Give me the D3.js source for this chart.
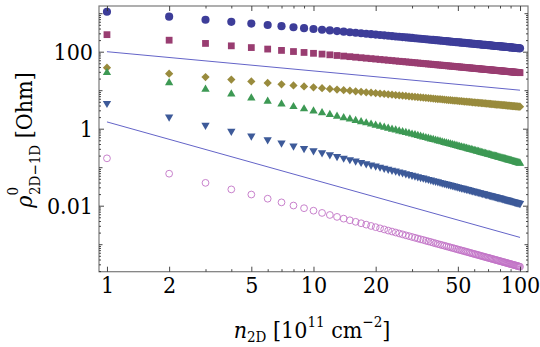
<!DOCTYPE html>
<html>
<head>
<meta charset="utf-8">
<script src="https://cdn.jsdelivr.net/npm/d3@7"></script>
<style>
  body { margin: 0; background: #fff; }
  svg text { font-family: "DejaVu Serif Condensed", "DejaVu Serif"; font-stretch: condensed; fill: #000; }
</style>
</head>
<body>
<svg width="540" height="347"></svg>
<script>
// carrier density n2D, in 1e11 cm^-2
const density = d3.range(1, 101);

// resistivity values, one per density point
const rhoCircle = [1090,812,678,596,538,495,460,432,409,389,372,357,343,331,320,310,301,293,285,278,
  272,266,260,254,249,244,240,236,232,228,224,220,217,214,211,208,205,202,199,197,
  194,192,190,188,185,183,181,179,177,176,174,172,171,169,167,166,164,163,161,160,
  159,157,156,155,153,152,151,150,149,148,147,146,145,143,142,141,141,140,139,138,
  137,136,135,134,134,133,132,131,130,130,129,128,127,127,126,125,124,124,123,122];
const rhoSquare = [277,199,164,142,128,117,108,101,95.6,90.8,86.6,83.0,79.7,76.9,74.3,71.9,69.8,67.8,66.0,64.4,
  62.8,61.4,60.0,58.8,57.5,56.4,55.4,54.4,53.5,52.5,51.7,50.9,50.0,49.3,48.6,47.9,47.3,46.6,46.0,45.4,
  44.9,44.4,43.8,43.3,42.8,42.3,41.9,41.5,41.0,40.6,40.2,39.8,39.4,39.1,38.7,38.3,38.0,37.7,37.3,37.0,
  36.7,36.4,36.1,35.8,35.5,35.2,35.0,34.7,34.5,34.2,34.0,33.7,33.5,33.3,33.0,32.8,32.6,32.4,32.2,32.0,
  31.8,31.6,31.4,31.2,31.0,30.8,30.6,30.5,30.3,30.1,29.9,29.8,29.6,29.4,29.3,29.1,28.9,28.8,28.7,28.5];
const rhoDiamond = [38.4,26.9,21.9,18.9,16.9,15.4,14.2,13.3,12.5,11.9,11.3,10.8,10.4,10.0,9.68,9.37,9.09,8.83,8.59,8.37,
  8.17,7.98,7.80,7.64,7.48,7.33,7.20,7.07,6.94,6.82,6.71,6.60,6.50,6.41,6.31,6.23,6.14,6.05,5.98,5.90,
  5.83,5.76,5.69,5.63,5.56,5.50,5.44,5.39,5.33,5.28,5.22,5.17,5.12,5.08,5.03,4.98,4.94,4.90,4.85,4.81,
  4.78,4.74,4.70,4.66,4.62,4.59,4.55,4.52,4.49,4.46,4.42,4.39,4.36,4.33,4.30,4.27,4.25,4.22,4.19,4.17,
  4.14,4.11,4.09,4.07,4.04,4.02,3.99,3.97,3.95,3.93,3.90,3.88,3.87,3.84,3.82,3.80,3.78,3.76,3.74,3.72];
const rhoTriUp = [28.5,15.6,10.6,7.93,6.27,5.15,4.34,3.73,3.26,2.88,2.58,2.32,2.10,1.92,1.77,1.63,1.51,1.41,1.31,1.23,
  1.15,1.09,1.02,0.969,0.917,0.871,0.829,0.789,0.754,0.719,0.689,0.659,0.631,0.608,0.583,0.561,0.540,0.520,0.502,0.484,
  0.468,0.453,0.438,0.424,0.411,0.398,0.386,0.375,0.364,0.353,0.343,0.334,0.325,0.317,0.308,0.300,0.292,0.286,0.278,0.272,
  0.265,0.259,0.253,0.247,0.241,0.236,0.231,0.225,0.221,0.216,0.212,0.208,0.203,0.199,0.195,0.191,0.188,0.184,0.180,0.177,
  0.174,0.171,0.168,0.165,0.162,0.159,0.156,0.154,0.151,0.148,0.146,0.143,0.141,0.139,0.136,0.134,0.132,0.130,0.128,0.126];
const rhoTriDown = [4.57,2.01,1.23,0.861,0.651,0.517,0.425,0.358,0.308,0.268,0.237,0.212,0.190,0.173,0.158,0.145,0.134,0.124,0.115,0.108,
  0.101,0.0947,0.0890,0.0842,0.0796,0.0755,0.0718,0.0683,0.0652,0.0622,0.0595,0.0569,0.0545,0.0525,0.0504,0.0485,0.0467,0.0449,0.0434,0.0419,
  0.0405,0.0392,0.0380,0.0368,0.0356,0.0345,0.0335,0.0326,0.0317,0.0307,0.0299,0.0291,0.0284,0.0276,0.0269,0.0263,0.0256,0.0250,0.0244,0.0238,
  0.0233,0.0228,0.0223,0.0218,0.0213,0.0208,0.0204,0.0200,0.0196,0.0192,0.0188,0.0185,0.0181,0.0177,0.0174,0.0171,0.0168,0.0165,0.0161,0.0159,
  0.0156,0.0153,0.0151,0.0148,0.0146,0.0143,0.0141,0.0139,0.0137,0.0134,0.0132,0.0130,0.0128,0.0126,0.0124,0.0122,0.0120,0.0119,0.0117,0.0115];
const rhoOpen = [0.170,0.0678,0.0392,0.0265,0.0195,0.0152,0.0122,0.0101,0.00861,0.00742,0.00649,0.00574,0.00512,0.00461,0.00418,0.00381,0.00350,0.00322,0.00298,0.00277,
  0.00258,0.00242,0.00226,0.00213,0.00201,0.00190,0.00180,0.00170,0.00162,0.00154,0.00147,0.00140,0.00134,0.00129,0.00123,0.00118,0.00114,0.00109,0.00105,0.00101,
  0.000976,0.000944,0.000913,0.000882,0.000853,0.000825,0.000800,0.000776,0.000752,0.000730,0.000708,0.000689,0.000671,0.000653,0.000635,0.000618,0.000601,0.000587,0.000571,0.000558,
  0.000545,0.000532,0.000519,0.000507,0.000495,0.000483,0.000474,0.000462,0.000453,0.000444,0.000435,0.000426,0.000417,0.000409,0.000400,0.000392,0.000386,0.000378,0.000370,0.000364,
  0.000358,0.000350,0.000344,0.000338,0.000333,0.000327,0.000320,0.000316,0.000310,0.000305,0.000300,0.000295,0.000291,0.000286,0.000281,0.000277,0.000272,0.000269,0.000264,0.000260];

// two reference power laws (end points)
const guideUpper = [[1, 100], [100, 10]];
const guideLower = [[1, 1.5], [100, 0.0015]];

// tick labels
const xTickMajor = [1, 2, 5, 10, 20, 50, 100];
const xTickMinor = [3, 4, 6, 7, 8, 9, 30, 40, 60, 70, 80, 90];
const yTickLabeled = [100, 1, 0.01];
const yTickDecade = [1000, 10, 0.1, 0.001];

const serif = '"DejaVu Serif Condensed", "DejaVu Serif"';
const labelSize = "23px";

const svg = d3.select("svg");
const pLeft = 99, pRight = 528, pTop = 6, pBottom = 271.7;

const x = d3.scaleLog().domain([0.915, 109.3]).range([pLeft, pRight]);
const y = d3.scaleLog().domain([0.000193, 1538]).range([pBottom, pTop]);

const yMinor = [];
[-4, -3, -2, -1, 0, 1, 2, 3].forEach(e => {
  for (let m = 2; m <= 9; m++) {
    const v = m * Math.pow(10, e);
    if (v > y.domain()[0] && v < y.domain()[1]) yMinor.push(v);
  }
});

const plot = svg.append("g");

// frame
svg.append("rect")
  .attr("x", pLeft).attr("y", pTop)
  .attr("width", pRight - pLeft).attr("height", pBottom - pTop)
  .attr("fill", "none").attr("stroke", "#7a7a7a").attr("stroke-width", 1.2);

function tickLayer(axis, values, size, transform) {
  const g = svg.append("g").attr("transform", transform)
    .call(axis.tickValues(values).tickSize(-size).tickFormat(""));
  g.select(".domain").remove();
  g.selectAll("line").attr("stroke", "#333").attr("stroke-width", 0.9);
  return g;
}

tickLayer(d3.axisBottom(x), xTickMajor, 5, `translate(0,${pBottom})`);
tickLayer(d3.axisBottom(x), xTickMinor, 2.5, `translate(0,${pBottom})`);
tickLayer(d3.axisTop(x), xTickMajor, 5, `translate(0,${pTop})`);
tickLayer(d3.axisTop(x), xTickMinor, 2.5, `translate(0,${pTop})`);
tickLayer(d3.axisLeft(y), yTickLabeled, 5, `translate(${pLeft},0)`);
tickLayer(d3.axisLeft(y), yTickDecade, 3.5, `translate(${pLeft},0)`);
tickLayer(d3.axisLeft(y), yMinor, 2, `translate(${pLeft},0)`);
tickLayer(d3.axisRight(y), yTickLabeled, 5, `translate(${pRight},0)`);
tickLayer(d3.axisRight(y), yTickDecade, 3.5, `translate(${pRight},0)`);
tickLayer(d3.axisRight(y), yMinor, 2, `translate(${pRight},0)`);

// tick labels
const xAxisLabels = svg.append("g").attr("transform", `translate(0,${pBottom})`)
  .call(d3.axisBottom(x).tickValues(xTickMajor).tickSize(0).tickPadding(5).tickFormat(d => d));
xAxisLabels.select(".domain").remove();
xAxisLabels.selectAll("text").style("font-family", serif).style("font-size", labelSize);

const yAxisLabels = svg.append("g").attr("transform", `translate(${pLeft},0)`)
  .call(d3.axisLeft(y).tickValues(yTickLabeled).tickSize(0).tickPadding(6).tickFormat(d => d));
yAxisLabels.select(".domain").remove();
yAxisLabels.selectAll("text").style("font-family", serif).style("font-size", labelSize);

// guide lines
const line = d3.line().x(d => x(d[0])).y(d => y(d[1]));
[guideUpper, guideLower].forEach(g => {
  plot.append("path").attr("d", line(g))
    .attr("fill", "none").attr("stroke", "#6464c8").attr("stroke-width", 1);
});

// data series (diamond = square turned by 45 degrees)
const series = [
  { values: rhoCircle,  symbol: d3.symbolCircle,   size: 52, fill: "#3d3d99", rot: 0 },
  { values: rhoSquare,  symbol: d3.symbolSquare,   size: 46, fill: "#993d71", rot: 0 },
  { values: rhoDiamond, symbol: d3.symbolSquare,   size: 34, fill: "#998b3d", rot: 45 },
  { values: rhoTriUp,   symbol: d3.symbolTriangle, size: 30, fill: "#3d9954", rot: 0 },
  { values: rhoTriDown, symbol: d3.symbolTriangle, size: 30, fill: "#3d5a99", rot: 180 },
];

series.forEach(s => {
  plot.append("g").selectAll("path")
    .data(s.values)
    .enter().append("path")
    .attr("d", d3.symbol().type(s.symbol).size(s.size))
    .attr("transform", (d, i) => `translate(${x(density[i])},${y(d)}) rotate(${s.rot})`)
    .attr("fill", s.fill);
});

plot.append("g").selectAll("circle")
  .data(rhoOpen)
  .enter().append("circle")
  .attr("cx", (d, i) => x(density[i]))
  .attr("cy", d => y(d))
  .attr("r", 3.4)
  .attr("fill", "none")
  .attr("stroke", "#c274c6")
  .attr("stroke-width", 0.9);

// axis titles
const xt = svg.append("text")
  .attr("x", 312).attr("y", 338)
  .attr("text-anchor", "middle").style("font-size", labelSize);
xt.append("tspan").attr("font-style", "italic").text("n");
xt.append("tspan").style("font-size", "15px").attr("dy", 4).text("2D");
xt.append("tspan").attr("dy", -4).text(" [10");
xt.append("tspan").style("font-size", "15px").attr("dy", -11).text("11");
xt.append("tspan").attr("dy", 11).text(" cm");
xt.append("tspan").style("font-size", "15px").attr("dy", -11).text("\u22122");
xt.append("tspan").attr("dy", 11).text("]");

const yt = svg.append("text")
  .attr("transform", "translate(32,140) rotate(-90)")
  .attr("text-anchor", "middle").style("font-size", labelSize);
yt.append("tspan").attr("font-style", "italic").text("\u03c1");
yt.append("tspan").style("font-size", "15px").attr("dy", -14).text("0");
yt.append("tspan").style("font-size", "15px").attr("dx", -8).attr("dy", 22).text("2D\u22121D");
yt.append("tspan").attr("dy", -8).text(" [Ohm]");
</script>
</body>
</html>
